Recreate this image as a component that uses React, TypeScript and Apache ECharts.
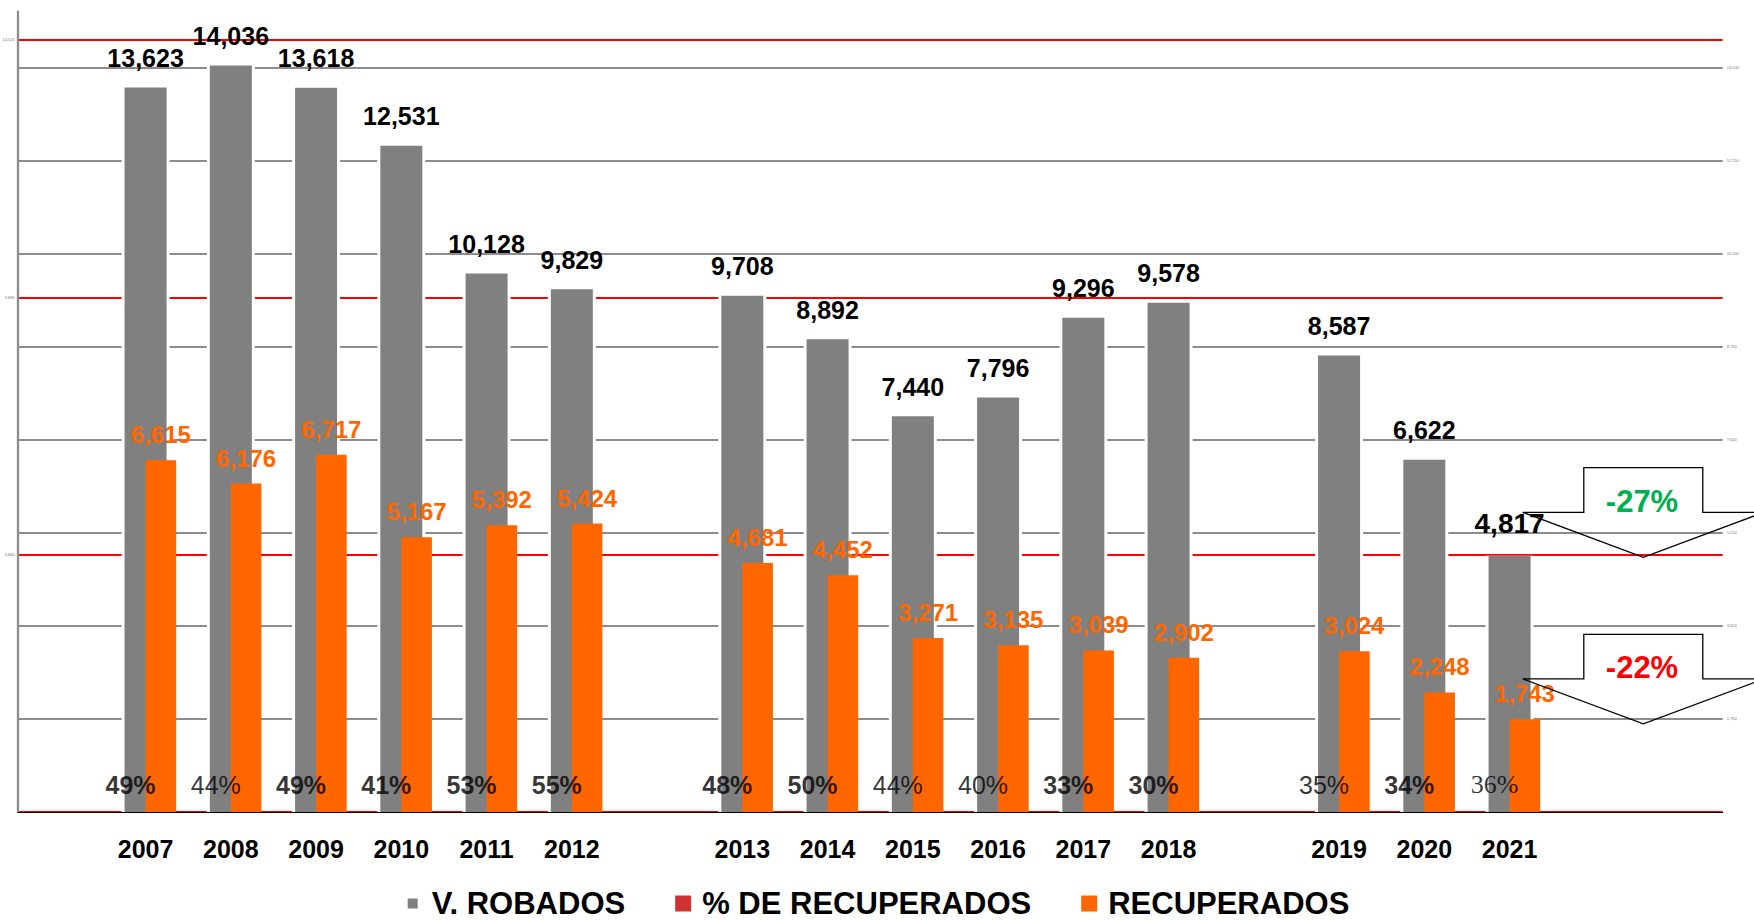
import React, { useEffect, useRef } from 'react';
import * as echarts from 'echarts';

const FONT = '"Liberation Sans", Arial, sans-serif';
const SERIF = '"Liberation Serif", "Times New Roman", serif';

// Category slots (blank slots are the gaps between the year groups)
const slots = ['', '2007', '2008', '2009', '2010', '2011', '2012', '', '2013', '2014', '2015', '2016', '2017', '2018', '', '2019', '2020', '2021', '', ''];
const years = ['2007', '2008', '2009', '2010', '2011', '2012', '2013', '2014', '2015', '2016', '2017', '2018', '2019', '2020', '2021'];
const robados = [13623, 14036, 13618, 12531, 10128, 9829, 9708, 8892, 7440, 7796, 9296, 9578, 8587, 6622, 4817];
const recuperados = [6615, 6176, 6717, 5167, 5392, 5424, 4681, 4452, 3271, 3135, 3039, 2902, 3024, 2248, 1743];
const porcentaje = [49, 44, 49, 41, 53, 55, 48, 50, 44, 40, 33, 30, 35, 34, 36];
// label style of each percentage: b = bold, n = normal, s = serif
const pctStyle = ['b', 'n', 'b', 'b', 'b', 'b', 'b', 'b', 'n', 'n', 'b', 'b', 'n', 'b', 's'];

const yMax = 15050;
const grayInterval = 1750;
const redInterval = 4840;

const variations = [
  { text: '-27%', color: '#00B050' },
  { text: '-22%', color: '#FF0000' },
];

const fmt = (v: number) => v.toLocaleString('en-US');

const bySlot = (vals: number[]) =>
  slots.map((s) => {
    const i = years.indexOf(s);
    return i < 0 ? '-' : vals[i];
  });

function arrow(tipX: number, topY: number) {
  const shaftHalf = 59.5;
  const shaftH = 44.6;
  const wingHalf = 120.6;
  const headH = 45;
  const sy = topY + shaftH;
  return [
    [tipX - shaftHalf, topY],
    [tipX + shaftHalf, topY],
    [tipX + shaftHalf, sy],
    [tipX + wingHalf, sy],
    [tipX, sy + headH],
    [tipX - wingHalf, sy],
    [tipX - shaftHalf, sy],
  ];
}

export default function App() {
  const ref = useRef<HTMLDivElement>(null);
  useEffect(() => {
    const chart = echarts.init(ref.current!, null, { renderer: 'svg' });

    const grayData = slots.map((s) => {
      const i = years.indexOf(s);
      if (i < 0) return '-';
      if (s === '2021') return { value: robados[i], label: { fontSize: 28, distance: 18 } };
      return robados[i];
    });

    const pctData: any[] = [];
    slots.forEach((s, idx) => {
      const i = years.indexOf(s);
      if (i < 0) return;
      pctData.push({ value: [idx, 0, porcentaje[i], i] });
    });

    const option: any = {
      animation: false,
      backgroundColor: '#fff',
      grid: { left: 17.7, right: 31.3, top: 11.7, bottom: 109, containLabel: false, outerBoundsMode: 'none' },
      legend: {
        data: [
          { name: 'V. ROBADOS', icon: 'path://M0,0M3,3L13,3L13,13L3,13ZM16,16' },
          { name: '% DE RECUPERADOS', itemStyle: { color: '#C00000' } },
          'RECUPERADOS',
        ],
        left: 'center',
        top: 888,
        padding: 0,
        icon: 'rect',
        itemWidth: 16,
        itemHeight: 16,
        itemGap: 50,
        textStyle: { fontSize: 31, lineHeight: 30, fontWeight: 'bold', color: '#000', fontFamily: FONT, padding: [0, 0, 0, 6] },
      },
      xAxis: [
        {
          type: 'category',
          data: slots,
          z: 10,
          axisLine: { show: true, onZero: false, lineStyle: { color: '#000', width: 1 } },
          axisTick: { show: false },
          splitLine: { show: false },
          axisLabel: { interval: 0, margin: 24, fontSize: 25, fontWeight: 'bold', color: '#000', fontFamily: FONT },
        },
        { type: 'category', data: slots, show: false },
        { type: 'category', data: slots, show: false },
      ],
      yAxis: [
        {
          type: 'value',
          position: 'right',
          min: 0,
          max: yMax,
          interval: grayInterval,
          axisLine: { show: false },
          axisTick: { show: false },
          splitLine: { show: true, showMinLine: false, showMaxLine: false, lineStyle: { color: '#8c8c8c', width: 2 } },
          axisLabel: { fontSize: 4, color: '#777', margin: 4, showMinLabel: false, showMaxLabel: false, formatter: (v: number) => fmt(v) },
        },
        {
          type: 'value',
          position: 'left',
          min: 0,
          max: yMax,
          interval: redInterval,
          axisLine: { show: true, lineStyle: { color: '#8c8c8c', width: 2.3 } },
          axisTick: { show: false },
          splitLine: { show: true, showMaxLine: false, lineStyle: { color: '#FF0000', width: 2 } },
          axisLabel: { fontSize: 4, color: '#777', margin: 3, showMinLabel: false, showMaxLabel: false, formatter: (v: number) => fmt(v) },
        },
      ],
      series: [
        {
          name: 'backdrop',
          type: 'bar',
          xAxisIndex: 1,
          yAxisIndex: 0,
          data: bySlot(robados),
          barWidth: 48,
          silent: true,
          itemStyle: { color: '#fff', borderColor: '#fff', borderWidth: 8 },
        },
        {
          name: 'V. ROBADOS',
          type: 'bar',
          xAxisIndex: 0,
          yAxisIndex: 0,
          data: grayData,
          barWidth: 42,
          itemStyle: { color: '#808080' },
          label: {
            show: true,
            position: 'top',
            distance: 17,
            fontSize: 25,
            fontWeight: 'bold',
            color: '#000',
            fontFamily: FONT,
            formatter: (p: any) => fmt(p.value),
          },
        },
        {
          name: 'placeholder',
          type: 'bar',
          xAxisIndex: 2,
          yAxisIndex: 0,
          data: bySlot(recuperados),
          barWidth: 30.6,
          barGap: '0%',
          silent: true,
          itemStyle: { color: 'rgba(0,0,0,0)' },
        },
        {
          name: 'RECUPERADOS',
          type: 'bar',
          xAxisIndex: 2,
          yAxisIndex: 0,
          data: bySlot(recuperados),
          barWidth: 30.6,
          barGap: '0%',
          itemStyle: { color: '#FF6600' },
          label: {
            show: true,
            position: 'top',
            distance: 13.5,
            fontSize: 24,
            fontWeight: 'bold',
            color: '#FF6600',
            fontFamily: FONT,
            formatter: (p: any) => fmt(p.value),
          },
        },
        {
          name: '% DE RECUPERADOS',
          type: 'scatter',
          xAxisIndex: 0,
          yAxisIndex: 0,
          symbolSize: 0,
          itemStyle: { color: '#C00000' },
          data: pctData,
          z: 5,
          label: {
            show: true,
            position: 'top',
            distance: 14.5,
            offset: [-15, 0],
            textBorderWidth: 0,
            formatter: (p: any) => '{' + pctStyle[p.value[3]] + '|' + p.value[2] + '%}',
            rich: {
              b: { fontSize: 25, fontWeight: 'bold', color: '#000', fontFamily: FONT },
              n: { fontSize: 25, fontWeight: 'normal', color: '#000', fontFamily: FONT },
              s: { fontSize: 26, fontWeight: 'normal', color: '#000', fontFamily: SERIF },
            },
          },
        },
      ],
      graphic: [
        { type: 'polygon', shape: { points: arrow(1643.3, 467.7) }, style: { fill: 'none', stroke: '#000', lineWidth: 1.3 }, z: 20 },
        { type: 'polygon', shape: { points: arrow(1643.3, 634.3) }, style: { fill: 'none', stroke: '#000', lineWidth: 1.3 }, z: 20 },
        {
          type: 'text', x: 1642, y: 501, z: 21,
          style: { text: variations[0].text, fill: variations[0].color, fontSize: 31, fontWeight: 'bold', fontFamily: FONT, align: 'center', verticalAlign: 'middle' },
        },
        {
          type: 'text', x: 1642, y: 667.5, z: 21,
          style: { text: variations[1].text, fill: variations[1].color, fontSize: 31, fontWeight: 'bold', fontFamily: FONT, align: 'center', verticalAlign: 'middle' },
        },
      ],
    };

    chart.setOption(option);
    return () => chart.dispose();
  }, []);
  return <div ref={ref} style={{ position: 'fixed', left: 0, top: 0, width: 1754, height: 921, background: '#fff' }} />;
}
